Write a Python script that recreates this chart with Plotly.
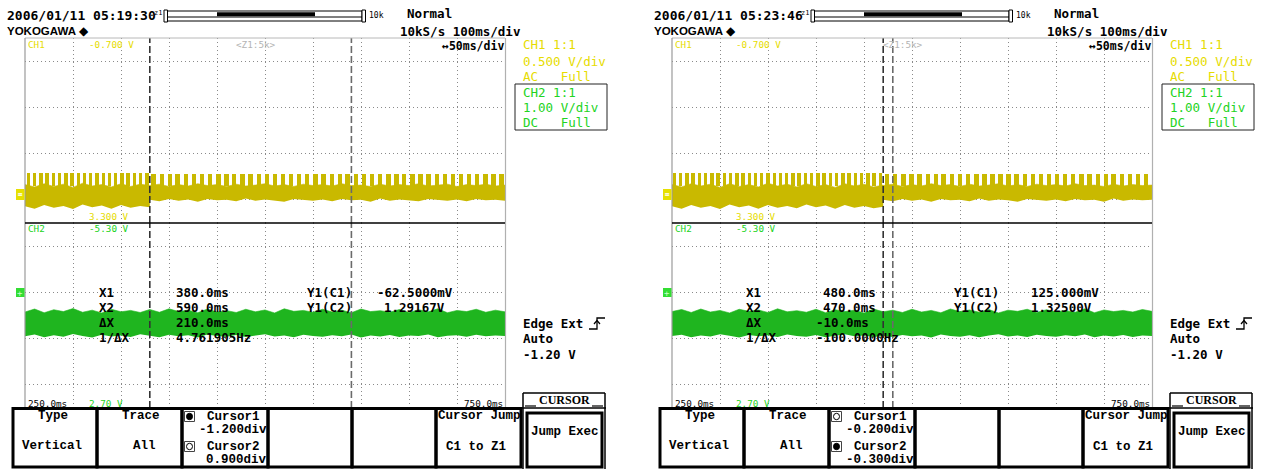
import plotly.graph_objects as go

W, H = 1268, 469

# ---------------- data ----------------
TIME_RANGE_MS = [250, 750]          # left / right edge of the time axis
CH1_SCREEN_V = [3.3, -0.7]          # CH1 zone: bottom label, top label
CH2_SCREEN_V = [2.7, -5.3]          # CH2 zone: bottom label, top label

# envelope sample times (ms); the repeated value marks the change of signal at the cursor
T_LEFT = [250, 260, 270, 280, 290, 300, 310, 320, 330, 340, 350, 360, 370, 380,
          380, 390, 400, 410, 420, 430, 440, 450, 460, 470, 480, 490, 500, 510, 520,
          530, 540, 550, 560, 570, 580, 590, 600, 610, 620, 630, 640, 650, 660, 670,
          680, 690, 700, 710, 720, 730, 740, 750]
T_RIGHT = [250, 260, 270, 280, 290, 300, 310, 320, 330, 340, 350, 360, 370, 380,
           390, 400, 410, 420, 430, 440, 450, 460, 470,
           470, 480, 490, 500, 510, 520, 530, 540, 550, 560, 570, 580, 590, 600, 610,
           620, 630, 640, 650, 660, 670, 680, 690, 700, 710, 720, 730, 740, 750]

# CH1 (yellow) noisy band: upper and lower edge (V)
CH1_LEFT_TOP = [2.47, 2.52, 2.45, 2.51, 2.46, 2.53, 2.44, 2.50, 2.47, 2.52, 2.45, 2.51, 2.46, 2.49,
                2.49, 2.46, 2.51, 2.47, 2.50, 2.45, 2.49, 2.47, 2.51, 2.46, 2.50, 2.48, 2.45, 2.50,
                2.47, 2.51, 2.46, 2.49, 2.47, 2.50, 2.45, 2.49, 2.48, 2.51, 2.46, 2.50, 2.47, 2.49,
                2.45, 2.50, 2.48, 2.46, 2.51, 2.47, 2.49, 2.46, 2.50, 2.48]
CH1_LEFT_BOT = [2.94, 2.99, 2.91, 2.97, 2.93, 3.00, 2.90, 2.96, 2.92, 2.99, 2.91, 2.97, 2.93, 2.96,
                2.80, 2.83, 2.78, 2.82, 2.79, 2.84, 2.78, 2.81, 2.80, 2.83, 2.77, 2.82, 2.79, 2.81,
                2.84, 2.78, 2.80, 2.82, 2.79, 2.83, 2.78, 2.81, 2.80, 2.84, 2.77, 2.82, 2.79, 2.81,
                2.83, 2.78, 2.80, 2.82, 2.79, 2.83, 2.78, 2.81, 2.80, 2.82]
CH1_RIGHT_TOP = [2.47, 2.52, 2.45, 2.50, 2.46, 2.53, 2.45, 2.51, 2.47, 2.52, 2.44, 2.50, 2.46, 2.52,
                 2.45, 2.51, 2.47, 2.53, 2.45, 2.50, 2.46, 2.52, 2.48,
                 2.49, 2.46, 2.51, 2.47, 2.50, 2.45, 2.49, 2.47, 2.51, 2.46, 2.50, 2.48, 2.45, 2.50,
                 2.47, 2.51, 2.46, 2.49, 2.47, 2.50, 2.45, 2.49, 2.48, 2.51, 2.46, 2.50, 2.47, 2.49, 2.48]
CH1_RIGHT_BOT = [2.94, 2.99, 2.91, 2.97, 2.93, 3.00, 2.90, 2.96, 2.92, 2.99, 2.91, 2.97, 2.93, 2.98,
                 2.90, 2.96, 2.92, 2.99, 2.91, 2.97, 2.93, 2.98, 2.95,
                 2.80, 2.83, 2.78, 2.82, 2.79, 2.84, 2.78, 2.81, 2.80, 2.83, 2.77, 2.82, 2.79, 2.81,
                 2.84, 2.78, 2.80, 2.82, 2.79, 2.83, 2.78, 2.81, 2.80, 2.84, 2.77, 2.82, 2.79, 2.81, 2.80]

# CH1 pulse teeth on top of the band (centre times, ms)
PULSES_LEFT_A = [253.5, 260.0, 266.5, 273.0, 279.5, 286.0, 292.5, 299.0, 305.5, 312.0, 318.5,
                 325.0, 331.5, 338.0, 344.5, 351.0, 357.5, 364.0, 370.5, 377.0]
PULSES_LEFT_B = [384.0, 392.5, 401.0, 409.0, 417.5, 426.0, 434.5, 443.0, 451.5, 460.0, 468.0,
                 476.5, 485.0, 493.5, 502.0, 510.5, 519.0, 527.0, 535.5, 544.0, 552.5, 561.0,
                 569.5, 578.0, 586.0, 594.5, 603.0, 611.5, 620.0, 628.5, 637.0, 645.0, 653.5,
                 662.0, 670.5, 679.0, 687.5, 696.0, 704.0, 712.5, 721.0, 729.5, 738.0, 746.5]
PULSES_RIGHT_A = [252.5, 259.0, 265.5, 272.0, 278.5, 285.0, 291.5, 298.0, 304.5, 311.0, 317.5,
                  324.0, 330.5, 337.0, 343.5, 350.0, 356.5, 363.0, 369.5, 376.0, 382.5, 389.0,
                  395.5, 402.0, 408.5, 415.0, 421.5, 428.0, 434.5, 441.0, 447.5, 454.0, 460.5, 467.0]
PULSES_RIGHT_B = [474.0, 482.5, 491.0, 499.5, 508.0, 516.5, 525.0, 533.0, 541.5, 550.0, 558.5,
                  567.0, 575.5, 584.0, 592.0, 600.5, 609.0, 617.5, 626.0, 634.5, 643.0, 651.0,
                  659.5, 668.0, 676.5, 685.0, 693.5, 702.0, 710.0, 718.5, 727.0, 735.5, 744.0]
PULSE_TOP_A = 2.21      # V, before the cursor
PULSE_TOP_B = 2.24      # V, after the cursor
PULSE_BASE = 2.50

# CH2 (green) noisy band
CH2_LEFT_TOP = [-1.45, -1.58, -1.42, -1.55, -1.47, -1.60, -1.44, -1.53, -1.41, -1.57, -1.46, -1.52, -1.43, -1.56,
                -1.56, -1.44, -1.59, -1.47, -1.53, -1.42, -1.58, -1.45, -1.51, -1.43, -1.57, -1.46, -1.54,
                -1.41, -1.59, -1.48, -1.52, -1.44, -1.57, -1.45, -1.53, -1.42, -1.58, -1.47, -1.51, -1.44,
                -1.56, -1.43, -1.55, -1.46, -1.59, -1.42, -1.52, -1.47, -1.57, -1.44, -1.53, -1.46]
CH2_LEFT_BOT = [-0.40, -0.48, -0.36, -0.45, -0.38, -0.50, -0.41, -0.35, -0.47, -0.39, -0.44, -0.37, -0.49, -0.42,
                -0.42, -0.36, -0.47, -0.40, -0.45, -0.35, -0.48, -0.41, -0.38, -0.46, -0.37, -0.43, -0.49,
                -0.39, -0.44, -0.36, -0.47, -0.41, -0.38, -0.45, -0.40, -0.48, -0.35, -0.43, -0.39, -0.46,
                -0.37, -0.44, -0.41, -0.48, -0.36, -0.42, -0.45, -0.38, -0.47, -0.40, -0.43, -0.41]
CH2_RIGHT_TOP = [-1.47, -1.56, -1.43, -1.58, -1.45, -1.52, -1.41, -1.57, -1.48, -1.54, -1.43, -1.59, -1.46,
                 -1.51, -1.44, -1.57, -1.42, -1.55, -1.47, -1.53, -1.41, -1.58, -1.46,
                 -1.46, -1.53, -1.43, -1.57, -1.45, -1.52, -1.42, -1.58, -1.47, -1.54, -1.44, -1.56, -1.41,
                 -1.53, -1.48, -1.57, -1.43, -1.55, -1.46, -1.51, -1.44, -1.59, -1.42, -1.54, -1.47, -1.52,
                 -1.45, -1.56, -1.48]
CH2_RIGHT_BOT = [-0.41, -0.47, -0.36, -0.44, -0.39, -0.49, -0.42, -0.35, -0.46, -0.40, -0.45, -0.37, -0.48,
                 -0.41, -0.38, -0.46, -0.36, -0.43, -0.49, -0.40, -0.44, -0.37, -0.42,
                 -0.42, -0.37, -0.46, -0.40, -0.44, -0.35, -0.48, -0.41, -0.38, -0.45, -0.36, -0.43, -0.49,
                 -0.39, -0.44, -0.37, -0.47, -0.41, -0.38, -0.45, -0.40, -0.48, -0.36, -0.43, -0.39, -0.46,
                 -0.37, -0.44, -0.41]

CURSORS_LEFT = [380, 590]     # X1, X2 (ms)
CURSORS_RIGHT = [480, 470]

for a, b in [(T_LEFT, CH1_LEFT_TOP), (T_LEFT, CH1_LEFT_BOT), (T_LEFT, CH2_LEFT_TOP), (T_LEFT, CH2_LEFT_BOT),
             (T_RIGHT, CH1_RIGHT_TOP), (T_RIGHT, CH1_RIGHT_BOT), (T_RIGHT, CH2_RIGHT_TOP), (T_RIGHT, CH2_RIGHT_BOT)]:
    assert len(a) == len(b), (len(a), len(b))

PANELS = [
    dict(off=0, date="2006/01/11 05:19:30", t=T_LEFT,
         ch1=(CH1_LEFT_TOP, CH1_LEFT_BOT), ch2=(CH2_LEFT_TOP, CH2_LEFT_BOT),
         pulses=(PULSES_LEFT_A, PULSES_LEFT_B), cursors=CURSORS_LEFT, active=0,
         xs=["380.0ms", "590.0ms", "210.0ms", "4.761905Hz"],
         ys=["-62.5000mV", "1.29167V"], cur=["-1.200div", "0.900div"]),
    dict(off=647, date="2006/01/11 05:23:46", t=T_RIGHT,
         ch1=(CH1_RIGHT_TOP, CH1_RIGHT_BOT), ch2=(CH2_RIGHT_TOP, CH2_RIGHT_BOT),
         pulses=(PULSES_RIGHT_A, PULSES_RIGHT_B), cursors=CURSORS_RIGHT, active=1,
         xs=["480.0ms", "470.0ms", "-10.0ms", "-100.0000Hz"],
         ys=["125.000mV", "1.32500V"], cur=["-0.200div", "-0.300div"]),
]

# ---------------- styling ----------------
YEL_TRACE = "#c9b900"
YEL_TEXT = "#e6dc00"
GRN_TRACE = "#1fb51f"
GRN_TEXT = "#22d322"
GRID = "#8a8a8a"
MONO = "DejaVu Sans Mono"
MENU = "Liberation Mono"
NB = "\u00a0"


def px(x):
    return x / W


def py(y):
    return 1 - y / H


fig = go.Figure()
annotations = []
shapes = []


def text(x, y, s, size=12.5, color="black", family=MONO, xanchor="left", bold=False):
    s = s.replace(" ", NB)
    if bold:
        s = "<b>" + s + "</b>"
    annotations.append(dict(x=px(x), y=py(y), xref="paper", yref="paper", text=s, showarrow=False,
                            xanchor=xanchor, yanchor="middle", borderpad=0,
                            font=dict(family=family, size=size, color=color)))


def line(x0, y0, x1, y1, color="black", width=1, dash=None):
    ln = dict(color=color, width=width)
    if dash:
        ln["dash"] = dash
    shapes.append(dict(type="line", xref="paper", yref="paper", x0=px(x0), y0=py(y0), x1=px(x1), y1=py(y1),
                       line=ln, layer="above"))


def rect(x0, y0, x1, y1, color="black", width=1, fill="rgba(0,0,0,0)"):
    shapes.append(dict(type="rect", xref="paper", yref="paper", x0=px(x0), y0=py(y0), x1=px(x1), y1=py(y1),
                       line=dict(color=color, width=width), fillcolor=fill, layer="above"))


layout_axes = {}
for i, p in enumerate(PANELS):
    o = p["off"]
    k1, k2 = 2 * i + 1, 2 * i + 2
    xn1 = "x" if k1 == 1 else f"x{k1}"
    yn1 = "y" if k1 == 1 else f"y{k1}"
    xn2, yn2 = f"x{k2}", f"y{k2}"
    for k, yn, dom, rng, t0, dt in [(k1, yn1, [py(223), py(38)], CH1_SCREEN_V, -0.2, 1.0),
                                     (k2, yn2, [py(408), py(223)], CH2_SCREEN_V, -4.3, 2.0)]:
        xkey = "xaxis" if k == 1 else f"xaxis{k}"
        ykey = "yaxis" if k == 1 else f"yaxis{k}"
        layout_axes[xkey] = dict(domain=[px(o + 25), px(o + 505)], range=TIME_RANGE_MS, anchor=yn,
                                 showgrid=True, gridcolor=GRID, griddash="1px,3px", gridwidth=1,
                                 tick0=250, dtick=50, showticklabels=False, zeroline=False,
                                 showline=False, ticks="", fixedrange=True)
        layout_axes[ykey] = dict(domain=dom, range=rng, anchor=xn1 if k == k1 else xn2,
                                 showgrid=True, gridcolor=GRID, griddash="1px,3px", gridwidth=1,
                                 tick0=t0, dtick=dt, showticklabels=False, zeroline=False,
                                 showline=False, ticks="", fixedrange=True)

    t = p["t"]
    # CH1 band
    top, bot = p["ch1"]
    fig.add_trace(go.Scatter(x=t, y=bot, mode="lines", line=dict(width=0, color=YEL_TRACE),
                             xaxis=xn1, yaxis=yn1, hoverinfo="skip"))
    fig.add_trace(go.Scatter(x=t, y=top, mode="lines", line=dict(width=0.6, color=YEL_TRACE),
                             fill="tonexty", fillcolor=YEL_TRACE, xaxis=xn1, yaxis=yn1, hoverinfo="skip"))
    for centers, ptop, wid in [(p["pulses"][0], PULSE_TOP_A, 3.6), (p["pulses"][1], PULSE_TOP_B, 4.6)]:
        fig.add_trace(go.Bar(x=centers, y=[ptop - PULSE_BASE for _ in centers], base=PULSE_BASE,
                             width=wid, marker=dict(color=YEL_TRACE, line=dict(width=0)),
                             xaxis=xn1, yaxis=yn1, hoverinfo="skip"))
    # CH2 band
    top, bot = p["ch2"]
    fig.add_trace(go.Scatter(x=t, y=bot, mode="lines", line=dict(width=0, color=GRN_TRACE),
                             xaxis=xn2, yaxis=yn2, hoverinfo="skip"))
    fig.add_trace(go.Scatter(x=t, y=top, mode="lines", line=dict(width=0.6, color=GRN_TRACE),
                             fill="tonexty", fillcolor=GRN_TRACE, xaxis=xn2, yaxis=yn2, hoverinfo="skip"))

    # cursors (data x, full screen height)
    for ci, cx in enumerate(p["cursors"]):
        col = "#333333" if ci == p["active"] else "#6a6a6a"
        for xn in (xn1, xn2):
            yr = yn1 if xn == xn1 else yn2
            shapes.append(dict(type="line", xref=xn, yref=f"{yr} domain", x0=cx, x1=cx, y0=0, y1=1,
                               line=dict(color=col, width=1.6, dash="7px,3px"), layer="above"))

    # frame
    line(o + 25, 38, o + 505, 38, "#b8b8b8", 1)
    line(o + 25, 38, o + 25, 408, "#9a9a9a", 1.2)
    line(o + 505.5, 38, o + 505.5, 408, "#b0b0b0", 1.2)
    line(o + 25, 223, o + 505, 223, "black", 1.5)

    # header
    text(o + 6, 15, p["date"], 13, bold=True)
    text(o + 153, 13, "z1", 7)
    rect(o + 165, 11, o + 362, 21, "black", 1)
    line(o + 165, 17, o + 362, 17, "black", 1)
    rect(o + 217, 12.2, o + 315, 16.3, "black", 0, "black")
    rect(o + 164, 10, o + 167.5, 22, "black", 1, "white")
    rect(o + 362, 10, o + 365.5, 22, "black", 1, "white")
    text(o + 368, 16, "10k", 8)
    text(o + 6, 31, "YOKOGAWA", 11.5, "black", "Liberation Sans", bold=True)
    text(o + 78, 31, "◆", 12, "black", "DejaVu Sans")
    text(o + 406, 14, "Normal", 12.5, bold=True)
    text(o + 399, 31, "10kS/s 100ms/div", 12.5, bold=True)

    # labels in the screen
    text(o + 27, 44, "CH1", 9.3, YEL_TEXT)
    text(o + 88, 44, "-0.700 V", 9.3, YEL_TEXT)
    text(o + 235, 44, "&lt;Z1:5k&gt;", 9.3, "#b4b4b4")
    text(o + 505, 46, "↔50ms/div", 11.5, xanchor="right", bold=True)
    text(o + 88, 216, "3.300 V", 9.3, YEL_TEXT)
    text(o + 27, 228.5, "CH2", 9.3, GRN_TEXT)
    text(o + 88, 228.5, "-5.30 V", 9.3, GRN_TEXT)
    text(o + 27, 403, "250.0ms", 9.3)
    text(o + 88, 403, "2.70 V", 9.3, GRN_TEXT)
    text(o + 463, 403, "750.0ms", 9.3)

    # ground markers
    rect(o + 16, 189, o + 24.5, 200, "#e6e000", 0, "#e6e000")
    text(o + 20.2, 194.5, "≡", 8, "white", xanchor="center")
    rect(o + 16, 288, o + 24.5, 297, "#33dd33", 0, "#33dd33")
    text(o + 20.2, 292.5, "+", 9, "#c8ffc8", xanchor="center")

    # cursor readouts
    rows = [292.7, 307.5, 322.3, 337.3]
    labels = ["X1", "X2", "ΔX", "1/ΔX"]
    for r, lab, val in zip(rows, labels, p["xs"]):
        text(o + 98, r, lab, 12.5, bold=True)
        text(o + (167.5 if val.startswith("-") else 175), r, val, 12.5, bold=True)
    for r, lab, val in zip(rows[:2], ["Y1(C1)", "Y1(C2)"], p["ys"]):
        text(o + 306, r, lab, 12.5, bold=True)
        text(o + (375.5 if val.startswith("-") else 383), r, val, 12.5, bold=True)

    # right side info
    text(o + 522, 45, "CH1 1:1", 12.5, YEL_TEXT)
    text(o + 522, 61, "0.500 V/div", 12.5, YEL_TEXT)
    text(o + 522, 76.5, "AC   Full", 12.5, YEL_TEXT)
    rect(o + 515, 84, o + 607, 130, "#222222", 1)
    text(o + 522, 92, "CH2 1:1", 12.5, GRN_TEXT)
    text(o + 522, 107.5, "1.00 V/div", 12.5, GRN_TEXT)
    text(o + 522, 122.5, "DC   Full", 12.5, GRN_TEXT)
    text(o + 522, 323, "Edge Ext", 12.5, bold=True)
    shapes.append(dict(type="path", xref="paper", yref="paper", layer="above",
                       path=f"M {px(o+589)} {py(329)} L {px(o+597)} {py(329)} L {px(o+597)} {py(318)} L {px(o+605)} {py(318)}",
                       line=dict(color="black", width=1.3)))
    shapes.append(dict(type="path", xref="paper", yref="paper", layer="above",
                       path=f"M {px(o+594)} {py(324)} L {px(o+597)} {py(320.5)} L {px(o+600)} {py(324)}",
                       line=dict(color="black", width=1.2)))
    text(o + 522, 338.5, "Auto", 12.5, bold=True)
    text(o + 522, 354, "-1.20 V", 12.5, bold=True)

    # soft-key menu
    edges = [13, 97, 182, 268, 352, 436, 521]
    for a, b in zip(edges[:-1], edges[1:]):
        rect(o + a, 408.5, o + b, 467, "black", 3)
    text(o + 53, 416, "Type", 12.5, family=MENU, xanchor="center", bold=True)
    text(o + 52, 446, "Vertical", 12.5, family=MENU, xanchor="center", bold=True)
    text(o + 141, 416, "Trace", 12.5, family=MENU, xanchor="center", bold=True)
    text(o + 144, 446, "All", 12.5, family=MENU, xanchor="center", bold=True)
    for j, (yy, name, val) in enumerate([(416.5, "Cursor1", p["cur"][0]), (446.5, "Cursor2", p["cur"][1])]):
        rect(o + 184.5, yy - 5, o + 194.5, yy + 5, "#444444", 1)
        shapes.append(dict(type="circle", xref="paper", yref="paper", layer="above",
                           x0=px(o + 186.5), x1=px(o + 192.5), y0=py(yy + 3.2), y1=py(yy - 3.2),
                           line=dict(color="black", width=1),
                           fillcolor="black" if j == p["active"] else "white"))
        text(o + 206, yy, name, 12.5, family=MENU, bold=True)
        text(o + 267.5, yy + 13.5, val, 12.5, family=MENU, xanchor="right", bold=True)
    text(o + 437, 416, "Cursor Jump", 12.5, family=MENU, bold=True)
    text(o + 476, 446.5, "C1 to Z1", 12.5, family=MENU, xanchor="center", bold=True)
    # CURSOR title + Jump Exec key
    line(o + 523, 393, o + 605, 393, "black", 1.5)
    line(o + 523, 393, o + 523, 469, "black", 1.5)
    line(o + 605, 393, o + 605, 469, "black", 1.5)
    line(o + 521, 408, o + 606, 408, "black", 1.5)
    line(o + 525, 406, o + 536, 406, "black", 1.2)
    line(o + 592, 406, o + 603, 406, "black", 1.2)
    text(o + 564, 400, "CURSOR", 12, family="Liberation Sans Narrow", xanchor="center", bold=True)
    rect(o + 527, 413, o + 602, 467, "black", 3)
    text(o + 564.5, 432, "Jump Exec", 12.5, family=MENU, xanchor="center", bold=True)

fig.update_layout(
    width=W, height=H, margin=dict(l=0, r=0, t=0, b=0, pad=0),
    paper_bgcolor="white", plot_bgcolor="white", showlegend=False,
    barmode="overlay", bargap=0,
    annotations=annotations, shapes=shapes, **layout_axes,
)

fig.write_html("out.html", config={"displayModeBar": False})
